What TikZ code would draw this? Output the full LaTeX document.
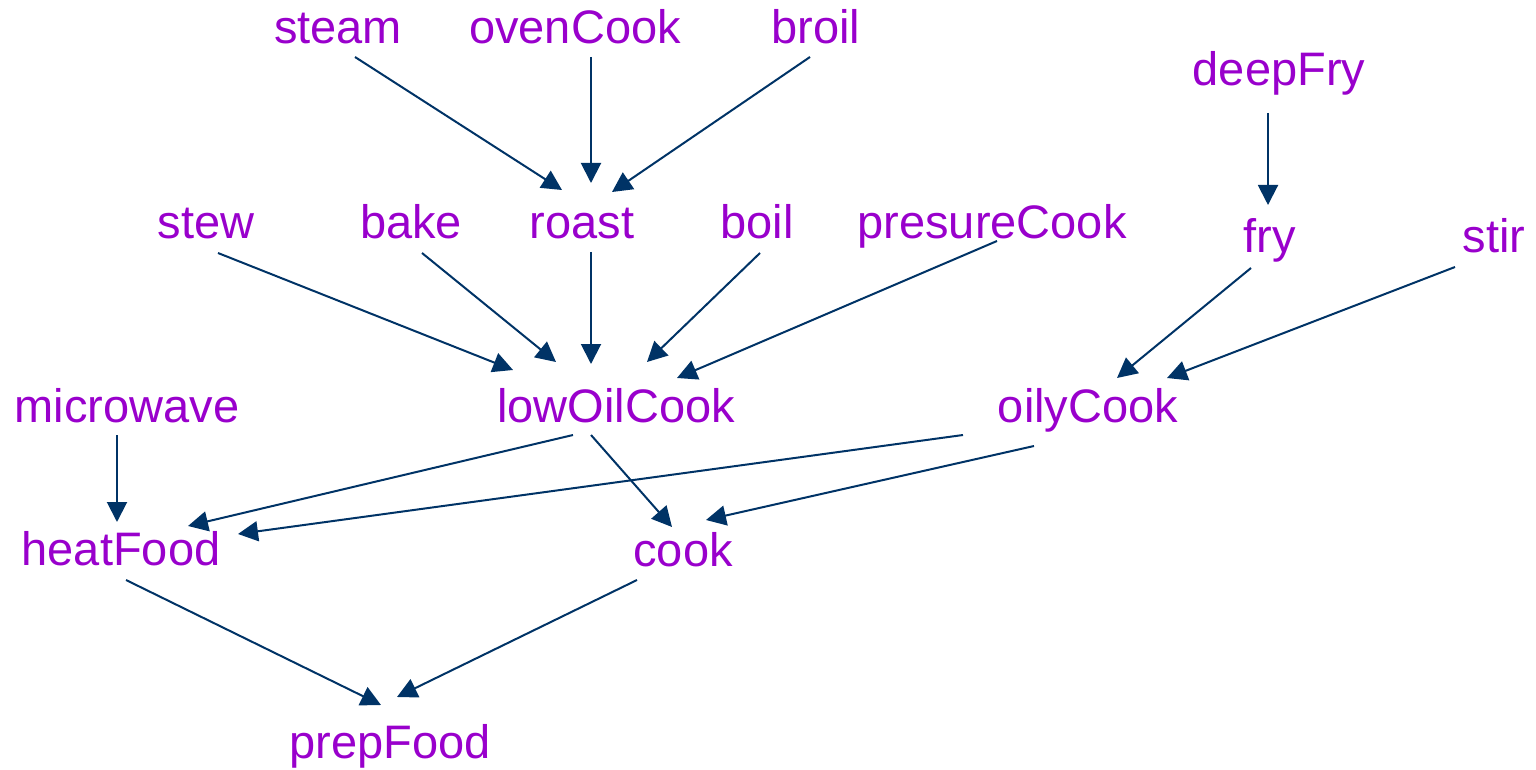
\documentclass[tikz,border=0pt]{standalone}
\usepackage{fontspec}
\setmainfont{Liberation Sans}
\usetikzlibrary{arrows.meta}
\definecolor{labelpurple}{HTML}{9900CC}
\definecolor{edgenavy}{HTML}{003366}
\tikzset{
  term/.style={text=labelpurple, inner sep=0pt, anchor=base,
    font=\fontsize{23.5}{28}\selectfont},
  link/.style={draw=edgenavy, line width=1pt,
    -{Triangle[length=10pt,width=10pt]}},
}
\begin{document}
\begin{tikzpicture}[x=0.5pt,y=-0.5pt]
\useasboundingbox (0,0) rectangle (1536,770);

% terms
\node[term] (steam)       at (338,44)  {steam};
\node[term] (ovenCook)    at (575,44)  {ovenCook};
\node[term] (broil)       at (816,44)  {broil};
\node[term] (deepFry)     at (1279,86) {deepFry};
\node[term] (stew)        at (206,239) {stew};
\node[term] (bake)        at (411,239) {bake};
\node[term] (roast)       at (582,239) {roast};
\node[term] (boil)        at (757,239) {boil};
\node[term] (presureCook) at (992,239) {presureCook};
\node[term] (fry)         at (1270,253) {fry};
\node[term] (stir)        at (1494,253) {stir};
\node[term] (microwave)   at (127,422) {microwave};
\node[term] (lowOilCook)  at (616,422) {lowOilCook};
\node[term] (oilyCook)    at (1088,422) {oilyCook};
\node[term] (heatFood)    at (121,565) {heatFood};
\node[term] (cook)        at (683,566) {cook};
\node[term] (prepFood)    at (390,758) {prepFood};

% specialisation links
\draw[link] ([shift={(17,13)}]steam.base)     -- ([shift={(-20,-49)}]roast.base);
\draw[link] ([shift={(16,13)}]ovenCook.base)  -- ([shift={(9,-56)}]roast.base);
\draw[link] ([shift={(-6,13)}]broil.base)     -- ([shift={(30,-47)}]roast.base);
\draw[link] ([shift={(-11,27)}]deepFry.base)  -- ([shift={(-2,-48)}]fry.base);
\draw[link] ([shift={(9,13)}]roast.base)      -- ([shift={(-25,-58)}]lowOilCook.base);
\draw[link] ([shift={(12,14)}]stew.base)      -- ([shift={(-103,-52)}]lowOilCook.base);
\draw[link] ([shift={(11,14)}]bake.base)      -- ([shift={(-60,-60)}]lowOilCook.base);
\draw[link] ([shift={(3,14)}]boil.base)       -- ([shift={(31,-60)}]lowOilCook.base);
\draw[link] ([shift={(5,2)}]presureCook.base) -- ([shift={(61,-44)}]lowOilCook.base);
\draw[link] ([shift={(-19,15)}]fry.base)      -- ([shift={(29,-44)}]oilyCook.base);
\draw[link] ([shift={(-39,14)}]stir.base)     -- ([shift={(79,-44)}]oilyCook.base);
\draw[link] ([shift={(-10,13)}]microwave.base) -- ([shift={(-4,-43)}]heatFood.base);
\draw[link] ([shift={(-43,13)}]lowOilCook.base) -- ([shift={(67,-39)}]heatFood.base);
\draw[link] ([shift={(-125,13)}]oilyCook.base)  -- ([shift={(117,-31)}]heatFood.base);
\draw[link] ([shift={(-25,13)}]lowOilCook.base) -- ([shift={(-11,-39)}]cook.base);
\draw[link] ([shift={(-54,24)}]oilyCook.base)   -- ([shift={(23,-46)}]cook.base);
\draw[link] ([shift={(5,15)}]heatFood.base)   -- ([shift={(-9,-53)}]prepFood.base);
\draw[link] ([shift={(-46,14)}]cook.base)     -- ([shift={(7,-61)}]prepFood.base);
\end{tikzpicture}
\end{document}
